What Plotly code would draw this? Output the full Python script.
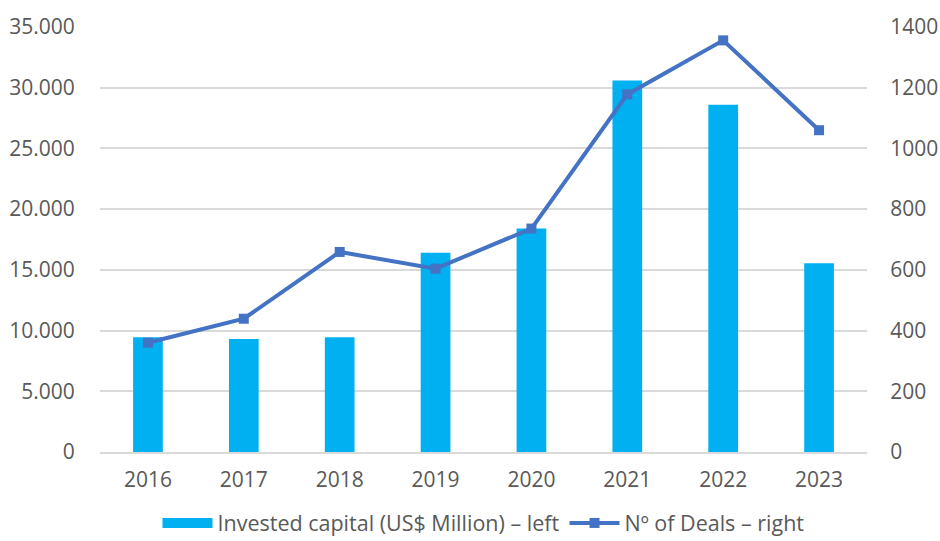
import plotly.graph_objects as go

years = ["2016", "2017", "2018", "2019", "2020", "2021", "2022", "2023"]
invested_capital = [9450, 9300, 9450, 16400, 18400, 30600, 28600, 15550]
num_deals = [360, 439, 659, 604, 736, 1178, 1356, 1060]
left_ticks = [0, 5000, 10000, 15000, 20000, 25000, 30000, 35000]
right_ticks = [0, 200, 400, 600, 800, 1000, 1200, 1400]

BAR_COLOR = "#00B0F0"
LINE_COLOR = "#4472C4"
GRID = "#D9D9D9"
TXT = "#595959"
FONT = "Open Sans"

fig = go.Figure()

fig.add_trace(go.Bar(
    x=years, y=invested_capital, name="Invested capital (US$ Million) – left",
    marker=dict(color=BAR_COLOR, line=dict(width=0)), width=0.31,
    yaxis="y", showlegend=False,
))
# legend entry for bars (wide swatch like the reference)
fig.add_trace(go.Scatter(
    x=[None], y=[None], mode="lines", name="Invested capital (US$ Million) – left",
    line=dict(color=BAR_COLOR, width=12), yaxis="y", showlegend=True,
    legendgroup="a",
))
fig.add_trace(go.Scatter(
    x=years, y=num_deals, name="Nº of Deals – right", mode="lines+markers",
    line=dict(color=LINE_COLOR, width=4),
    marker=dict(symbol="square", size=10, color=LINE_COLOR),
    yaxis="y2", legendgroup="b",
))

fig.update_layout(
    width=940, height=541,
    margin=dict(l=100, r=73, t=27, b=89, autoexpand=False),
    paper_bgcolor="white", plot_bgcolor="white",
    separators=",.",
    font=dict(family=FONT, size=21, color=TXT),
    xaxis=dict(
        type="category", showgrid=False, showline=True, linecolor=GRID, linewidth=1.5,
        ticks="outside", ticklen=8, tickcolor="rgba(0,0,0,0)",
        tickfont=dict(family=FONT, size=21, color=TXT), zeroline=False,
    ),
    yaxis=dict(
        range=[0, 35000], tickvals=left_ticks, tickformat=",d",
        showgrid=True, gridcolor=GRID, gridwidth=1.5, zeroline=False,
        ticks="outside", ticklen=20, tickcolor="rgba(0,0,0,0)",
        tickfont=dict(family=FONT, size=21, color=TXT), showline=False,
    ),
    yaxis2=dict(
        range=[0, 1400], tickvals=right_ticks, tickformat="d",
        overlaying="y", side="right", showgrid=False, zeroline=False,
        ticks="outside", ticklen=18, tickcolor="rgba(0,0,0,0)",
        tickfont=dict(family=FONT, size=21, color=TXT), showline=False,
    ),
    legend=dict(
        orientation="h", x=0.5, xanchor="center", y=-0.167, yanchor="middle",
        font=dict(family=FONT, size=21.5, color=TXT), itemwidth=50,
        traceorder="grouped", tracegroupgap=14, bgcolor="rgba(0,0,0,0)",
    ),
)

fig.write_html("out.html")
